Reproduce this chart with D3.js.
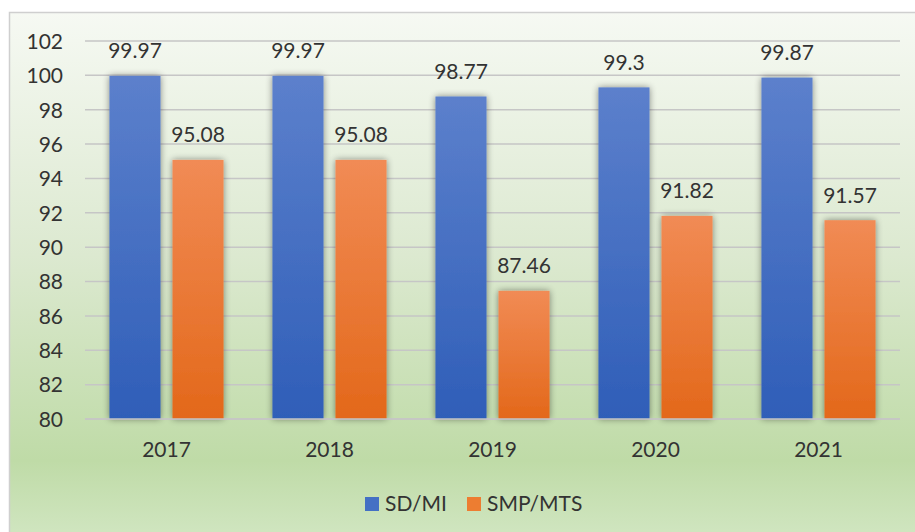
<!DOCTYPE html>
<html>
<head>
<meta charset="utf-8">
<script src="https://cdn.jsdelivr.net/npm/d3@7"></script>
<style>
  html, body { margin: 0; padding: 0; background: #ffffff; }
  svg { display: block; }
  text { font-family: Lato, "Open Sans", sans-serif; fill: #333333; }
</style>
</head>
<body>
<svg id="chart" width="915" height="532"></svg>
<script>
const years = ["2017", "2018", "2019", "2020", "2021"];
const seriesNames = ["SD/MI", "SMP/MTS"];
const sdmi = [99.97, 99.97, 98.77, 99.3, 99.87];
const smpmts = [95.08, 95.08, 87.46, 91.82, 91.57];
const yTicks = [80, 82, 84, 86, 88, 90, 92, 94, 96, 98, 100, 102];

const FS = 21;
const svg = d3.select("#chart");
const defs = svg.append("defs");

const bg = defs.append("linearGradient").attr("id", "bg").attr("x1", 0).attr("y1", 0).attr("x2", 0).attr("y2", 1);
[[0, "#f6f9f3"], [0.45, "#dce9d0"], [0.83, "#bfdba7"], [1, "#d4e8c6"]].forEach(([o, c]) =>
  bg.append("stop").attr("offset", o).attr("stop-color", c));

const gBlue = defs.append("linearGradient").attr("id", "gBlue").attr("x1", 0).attr("y1", 0).attr("x2", 0).attr("y2", 1);
gBlue.append("stop").attr("offset", 0).attr("stop-color", "#5c80cc");
gBlue.append("stop").attr("offset", 1).attr("stop-color", "#2f5eb8");
const gOrange = defs.append("linearGradient").attr("id", "gOrange").attr("x1", 0).attr("y1", 0).attr("x2", 0).attr("y2", 1);
gOrange.append("stop").attr("offset", 0).attr("stop-color", "#f18b55");
gOrange.append("stop").attr("offset", 1).attr("stop-color", "#e3681a");

const shadow = defs.append("filter").attr("id", "shadow").attr("x", "-30%").attr("y", "-10%").attr("width", "160%").attr("height", "120%");
shadow.append("feGaussianBlur").attr("in", "SourceAlpha").attr("stdDeviation", 3.5).attr("result", "blur");
shadow.append("feComponentTransfer").attr("in", "blur").attr("result", "sh")
  .append("feFuncA").attr("type", "linear").attr("slope", 0.45);
const merge = shadow.append("feMerge");
merge.append("feMergeNode").attr("in", "sh");
merge.append("feMergeNode").attr("in", "SourceGraphic");

// chart area background
svg.append("rect").attr("x", 9.5).attr("y", 12.5).attr("width", 930).attr("height", 540)
  .attr("fill", "url(#bg)").attr("stroke", "#cfcfcf").attr("stroke-width", 1.5);

const y = d3.scaleLinear().domain([80, 102]).range([419, 41]);
const x0 = d3.scaleBand().domain(years).range([85, 900]).paddingInner(0.30).paddingOuter(0.15);
const x1 = d3.scaleBand().domain(seriesNames).range([0, x0.bandwidth()]).paddingInner(0.19);

// gridlines
svg.append("g").selectAll("line").data(yTicks).join("line")
  .attr("x1", 85).attr("x2", 900)
  .attr("y1", d => y(d)).attr("y2", d => y(d))
  .attr("stroke", "#c6c6c6").attr("stroke-width", 1.5);

// y axis labels
const yAxis = d3.axisLeft(y).tickValues(yTicks).tickSize(0).tickPadding(0).tickFormat(d3.format("d"));
const ya = svg.append("g").attr("transform", "translate(63,0)").call(yAxis);
ya.select(".domain").remove();
ya.selectAll("text").attr("font-size", FS).attr("fill", "#333").style("font-family", "Lato, sans-serif").attr("dy", "0.35em");

// x axis labels
const xAxis = d3.axisBottom(x0).tickSize(0).tickPadding(0);
const xa = svg.append("g").attr("transform", "translate(0,450)").call(xAxis);
xa.select(".domain").remove();
xa.selectAll("text").attr("font-size", FS).attr("fill", "#333").style("font-family", "Lato, sans-serif").attr("dy", "0.35em");

const data = years.map((yr, i) => ({ year: yr, vals: [
  { s: "SD/MI", v: sdmi[i], fill: "url(#gBlue)" },
  { s: "SMP/MTS", v: smpmts[i], fill: "url(#gOrange)" }
]}));

const groups = svg.append("g").selectAll("g").data(data).join("g")
  .attr("transform", d => `translate(${x0(d.year)},0)`);

groups.selectAll("rect").data(d => d.vals).join("rect")
  .attr("x", d => x1(d.s)).attr("width", x1.bandwidth())
  .attr("y", d => y(d.v)).attr("height", d => y(80) - y(d.v))
  .attr("fill", d => d.fill).attr("filter", "url(#shadow)");

groups.selectAll("text").data(d => d.vals).join("text")
  .attr("x", d => x1(d.s) + x1.bandwidth() / 2)
  .attr("y", d => y(d.v) - 17.5)
  .attr("text-anchor", "middle").attr("font-size", FS)
  .text(d => d.v);

// baseline
svg.append("line").attr("x1", 85).attr("x2", 900).attr("y1", y(80)).attr("y2", y(80))
  .attr("stroke", "#c6c6c6").attr("stroke-width", 1.5);

// legend
const legend = svg.append("g");
const items = [{ s: "SD/MI", fill: "#4470c4", x: 365 }, { s: "SMP/MTS", fill: "#ed7d31", x: 467 }];
items.forEach(it => {
  legend.append("rect").attr("x", it.x).attr("y", 497).attr("width", 14).attr("height", 14).attr("fill", it.fill);
  legend.append("text").attr("x", it.x + 20).attr("y", 504).attr("dy", "0.35em").attr("font-size", FS).text(it.s);
});
</script>
</body>
</html>
